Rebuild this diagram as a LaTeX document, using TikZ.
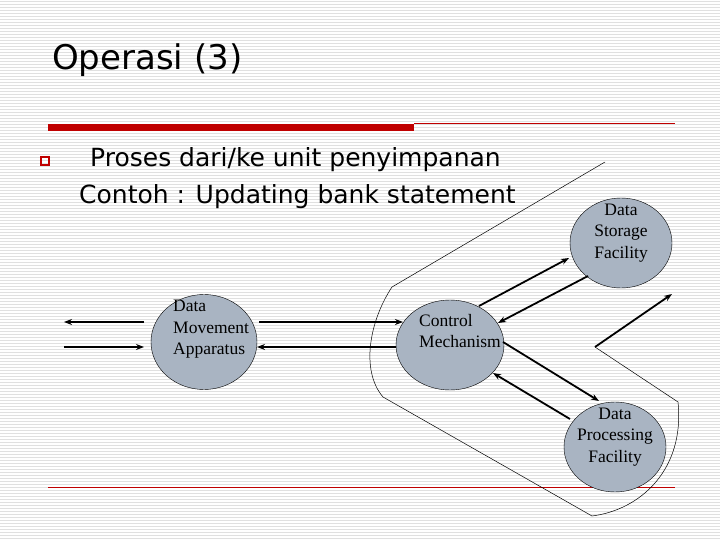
\documentclass[tikz,border=0pt]{standalone}
\usepackage{fontspec}
\setmainfont{DejaVu Sans}
\newfontfamily\serifx{Liberation Serif}
\usetikzlibrary{arrows.meta,shapes.geometric}
\definecolor{nodefill}{HTML}{A9B4C2}
\definecolor{redx}{HTML}{C00000}
\begin{document}
\begin{tikzpicture}[x=1pt,y=-1pt,
  blob/.style={draw=black,fill=nodefill,ellipse,inner sep=0pt},
  lab/.style={font=\serifx\fontsize{17.5}{21.5}\selectfont,align=left,inner sep=0pt},
  arr/.style={line width=1.8pt,-{Stealth[length=8pt,width=6pt]}},
  outline/.style={draw=black,line width=0.5pt}]
\useasboundingbox (0,0) rectangle (720,540);
\fill[white] (0,0) rectangle (720,540);
\foreach \y in {1,4,...,540} \draw[black!12,line width=0.6pt] (0,\y) -- (720,\y);
\node[anchor=base west,font=\fontsize{34}{38}\selectfont,inner sep=0pt] (title) at (52,70) {Operasi (3)};
\fill[redx] (48,124) rectangle (414,131);
\draw[redx,line width=0.6pt] (414,123) -- (675,123);
\draw[redx,line width=0.6pt] (48,487) -- (675,487);
\node[draw=redx,line width=1.4pt,minimum size=8pt,inner sep=0pt] (bul) at (45,161) {};
\node[anchor=base west,font=\fontsize{25}{28}\selectfont,inner sep=0pt] (l1) at (90,167) {Proses dari/ke unit penyimpanan};
\node[anchor=base west,font=\fontsize{25}{28}\selectfont,inner sep=0pt] (l2) at (79,204) {Contoh : Updating bank statement};
% boundary
\draw[outline] (605,162) -- (392,287) .. controls (370,320) and (360,370) .. (383,397) -- (592,516)
  .. controls (640,510) and (685,470) .. (678,402) -- (595,347);
% ellipses
\node[blob,minimum width=106pt,minimum height=95pt] (dma) at (204,342) {};
\node[blob,minimum width=108pt,minimum height=90pt] (cm) at (450,345) {};
\node[blob,minimum width=102pt,minimum height=90pt] (dsf) at (621,243) {};
\node[blob,minimum width=102pt,minimum height=90pt] (dpf) at (615,447) {};
\node[lab,anchor=north west] (tdma) at (173,300) {Data\\Movement\\Apparatus};
\node[lab,anchor=north west] (tcm) at (419,314) {Control\\Mechanism};
\node[lab,align=center] (tdsf) at (621,233) {Data\\Storage\\Facility};
\node[lab,align=center] (tdpf) at (615,437) {Data\\Processing\\Facility};
% arrows
\coordinate (a1) at (144,322); \coordinate (a2) at (64,322);
\coordinate (a3) at (64,347); \coordinate (a4) at (144,347);
\draw[arr] (a1) -- (a2);
\draw[arr] (a3) -- (a4);
\coordinate (b1) at (259,322); \coordinate (b2) at (403,322);
\coordinate (b3) at (396,347); \coordinate (b4) at (257,347);
\draw[arr] (b1) -- (b2);
\draw[arr] (b3) -- (b4);
\coordinate (c1) at (479,306); \coordinate (c2) at (569,258);
\coordinate (c3) at (588,276); \coordinate (c4) at (498,323);
\draw[arr] (c1) -- (c2);
\draw[arr] (c3) -- (c4);
\coordinate (d1) at (503,342); \coordinate (d2) at (599,401);
\coordinate (d3) at (570,419); \coordinate (d4) at (493,373);
\draw[arr] (d1) -- (d2);
\draw[arr] (d3) -- (d4);
\coordinate (e1) at (595,347); \coordinate (e2) at (672,294);
\draw[arr] (e1) -- (e2);
\end{tikzpicture}
\end{document}
